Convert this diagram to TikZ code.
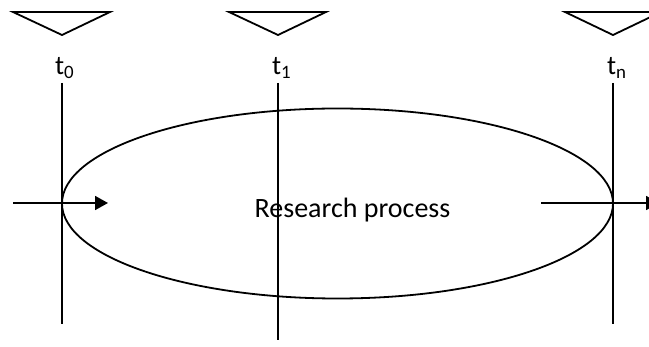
\documentclass[tikz,border=0pt]{standalone}
\usepackage{fontspec}
\setmainfont{Carlito}
\usetikzlibrary{arrows.meta,shapes.geometric}
\tikzset{
  ln/.style={line width=1.8pt, black},
  marker/.style={ln, line join=miter},
  arr/.style={ln, -{Triangle[length=13pt,width=14pt]}},
  tlabel/.style={anchor=base west, inner sep=0pt, font=\fontsize{27}{30}\selectfont},
}
\begin{document}
\begin{tikzpicture}[x=1pt,y=-1pt]
\useasboundingbox (0,0) rectangle (649,347);
\clip (0,0) rectangle (649,347);
% triangles
\draw[marker] (13,12) -- (110,12) -- (62,35) -- cycle;
\draw[marker] (229,12) -- (326,12) -- (278,35) -- cycle;
\draw[marker] (565,12) -- (661,12) -- (613,35) -- cycle;
% labels
\node[tlabel] (l0) at (55,75) {t\textsubscript{0}};
\node[tlabel] (l1) at (272,75) {t\textsubscript{1}};
\node[tlabel] (ln) at (607,75) {t\textsubscript{n}};
% time lines
\coordinate (a0) at (62,83); \coordinate (b0) at (62,324);
\coordinate (a1) at (278,83);  \coordinate (b1) at (278,340);
\coordinate (an) at (613,83);  \coordinate (bn) at (613,324);
\draw[ln] (a0) -- (b0);
\draw[ln] (a1) -- (b1);
\draw[ln] (an) -- (bn);
% ellipse
\node[ellipse, ln, draw, minimum width=551pt, minimum height=190pt, inner sep=0pt] (proc) at (337.5,203.5) {};
\node[font=\fontsize{28}{32}\selectfont, anchor=base, inner sep=0pt] (txt) at (352.5,218) {Research process};
% arrows
\coordinate (i0) at (13,203); \coordinate (i1) at (108,203);
\coordinate (o0) at (541,203); \coordinate (o1) at (659,203);
\draw[arr] (i0) -- (i1);
\draw[arr] (o0) -- (o1);
\end{tikzpicture}
\end{document}
